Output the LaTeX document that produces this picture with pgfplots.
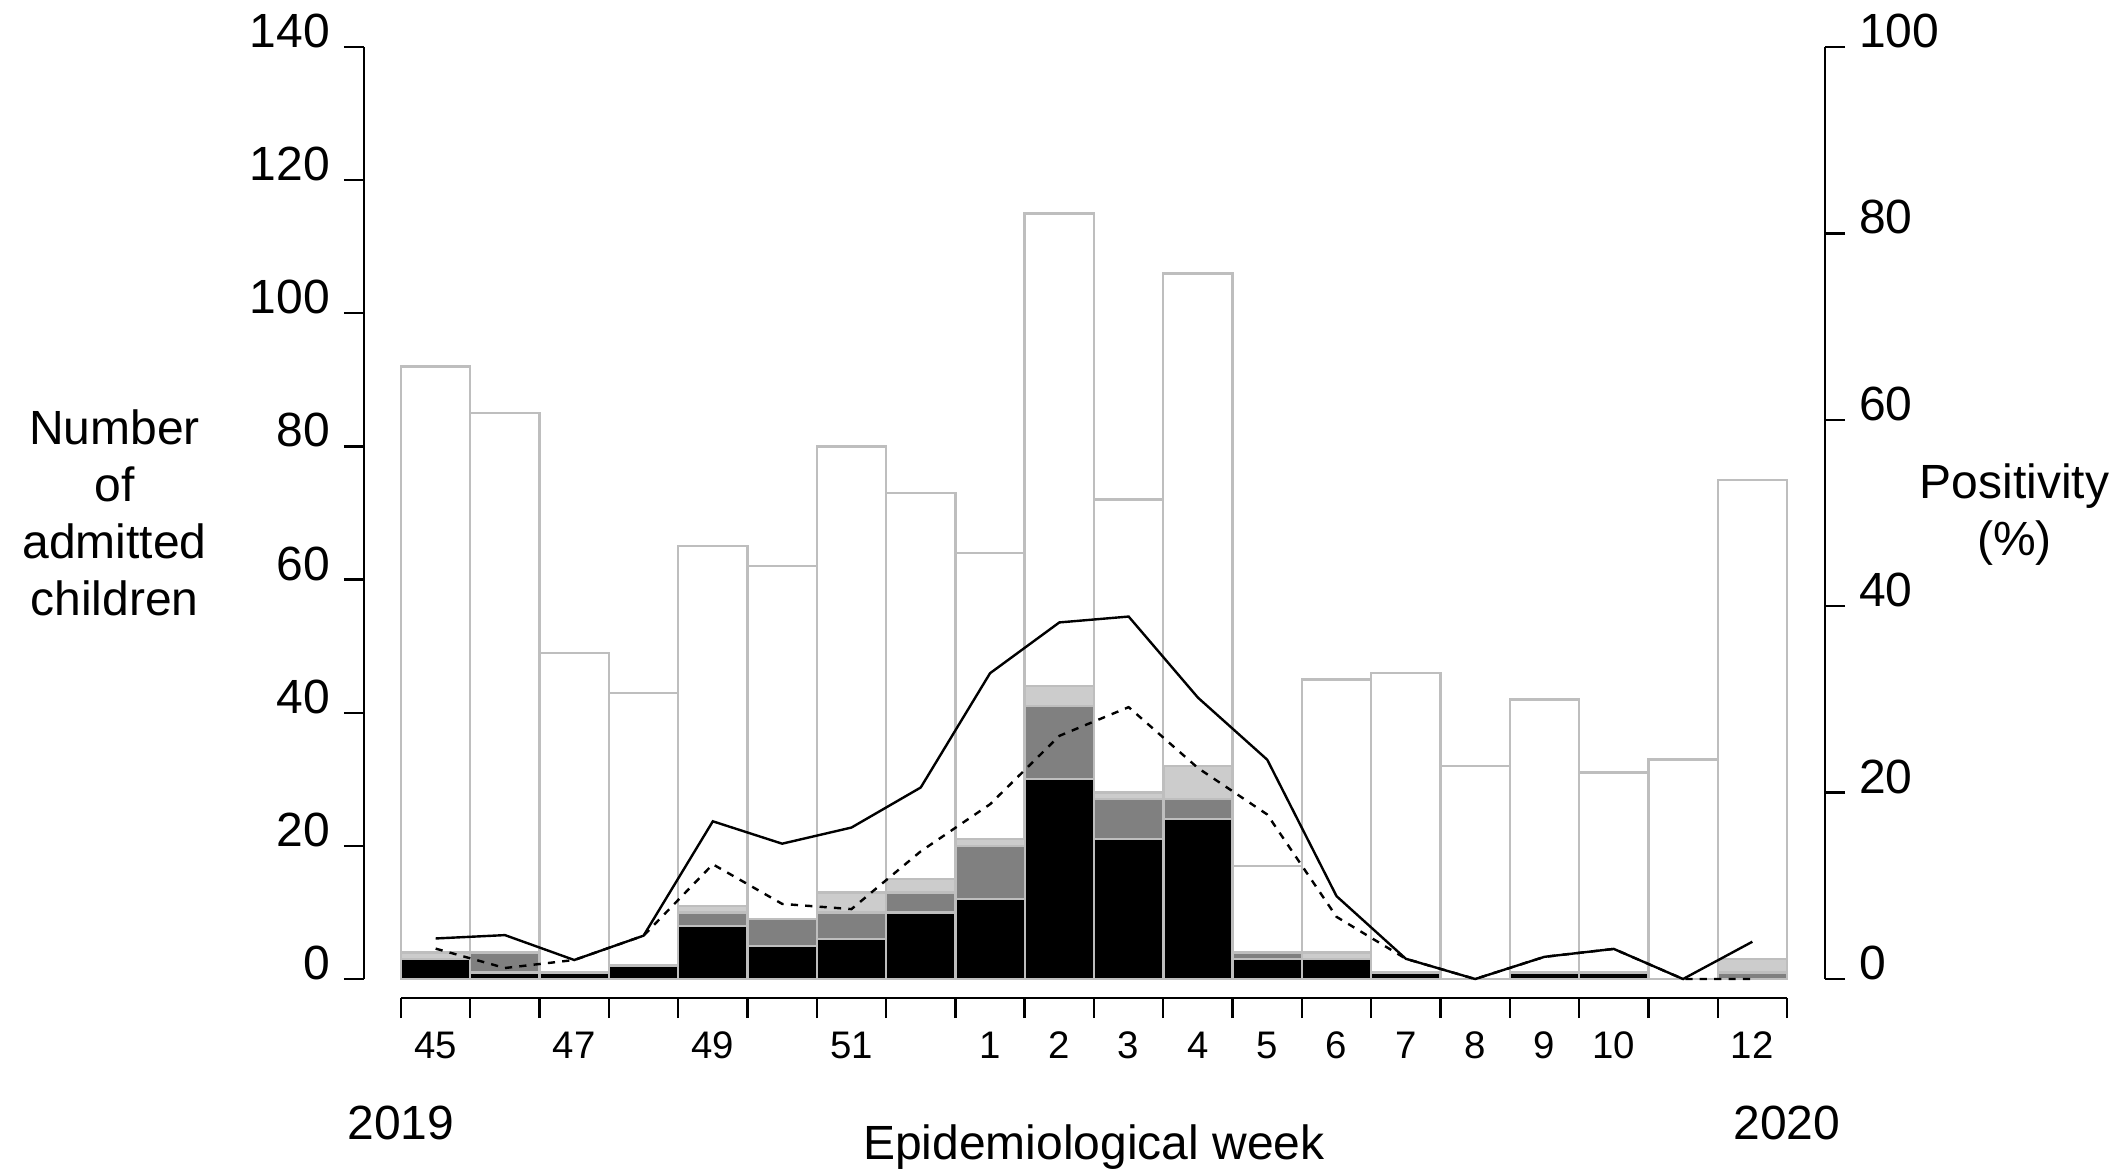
\documentclass[border=0pt]{standalone}
\usepackage{pgfplots}
\usepackage{pgfplotstable}
\pgfplotsset{compat=1.18}
\usepackage{fontspec}
\setmainfont{Liberation Sans}

\definecolor{barline}{HTML}{BEBEBE}
\definecolor{darkseg}{HTML}{808080}
\definecolor{lightseg}{HTML}{CCCCCC}

% one row per bar: x = bar centre, weeks 45-52 (2019) then 1-12 (2020)
\pgfplotstableread{
x    week total black dark light solid dashed
0.5  45   92    3     0    1     4.35  3.26
1.5  46   85    1     3    0     4.71  1.18
2.5  47   49    1     0    0     2.04  2.04
3.5  48   43    2     0    0     4.65  4.65
4.5  49   65    8     2    1     16.92 12.31
5.5  50   62    5     4    0     14.52 8.06
6.5  51   80    6     4    3     16.25 7.50
7.5  52   73    10    3    2     20.55 13.70
8.5  1    64    12    8    1     32.81 18.75
9.5  2    115   30    11   3     38.26 26.09
10.5 3    72    21    6    1     38.89 29.17
11.5 4    106   24    3    5     30.19 22.64
12.5 5    17    3     1    0     23.53 17.65
13.5 6    45    3     0    1     8.89  6.67
14.5 7    46    1     0    0     2.17  2.17
15.5 8    32    0     0    0     0     0
16.5 9    42    1     0    0     2.38  2.38
17.5 10   31    1     0    0     3.23  3.23
18.5 11   33    0     0    0     0     0
19.5 12   75    0     1    2     4.00  0
}\weeks

\pgfplotsset{
  base/.style={
    width=346.5pt, height=233pt, scale only axis,
    xmin=0, xmax=20, clip=false,
    tick align=outside, major tick length=5pt,
    axis line style={line width=0.6pt},
    every tick/.style={black, line width=0.6pt},
    /pgf/number format/assume math mode=true,
    every tick label/.append style={font=\fontsize{12}{14}\selectfont},
  },
}

\begin{document}
\begin{tikzpicture}[font=\fontsize{12}{14.25}\selectfont]
% total admissions (white bars) + left and bottom axes
\begin{axis}[base, ymin=0, ymax=140,
    axis x line*=bottom, axis y line*=left,
    axis x line shift=4.75pt, axis y line shift=9.25pt,
    ytick={0,20,...,140},
    yticklabel style={yshift=4pt},
    xtick={0,...,20},
    xticklabels={45,,47,,49,,51,,1,2,3,4,5,6,7,8,9,10,,12,},
    xticklabel style={xshift=8.6625pt, font=\fontsize{9.6}{11}\selectfont},
    ybar, bar width=1, bar shift=0pt,
  ]
  \addplot[fill=white, draw=barline, line width=0.6pt] table[x=x, y=total] {\weeks};
  \node[align=center] at (rel axis cs:0,0.5) [xshift=-71.6pt] {Number\\of\\admitted\\children};
  \node at (rel axis cs:0,0) [yshift=-36pt] {2019};
  \node at (rel axis cs:1,0) [yshift=-36pt] {2020};
  \node[anchor=base] at (rel axis cs:0.5,0) [yshift=-45pt] {Epidemiological week};
\end{axis}

% positive samples, stacked
\begin{axis}[base, ymin=0, ymax=140, hide axis,
    ybar stacked, bar width=1,
  ]
  \addplot[fill=black, draw=barline, line width=0.6pt] table[x=x, y=black] {\weeks};
  \addplot[fill=darkseg, draw=barline, line width=0.6pt] table[x=x, y=dark] {\weeks};
  \addplot[fill=lightseg, draw=barline, line width=0.6pt] table[x=x, y=light] {\weeks};
\end{axis}

% positivity (%) on the right axis
\begin{axis}[base, ymin=0, ymax=100,
    axis x line=none, axis y line*=right,
    axis y line shift=9.5pt,
    ytick={0,20,...,100},
    yticklabel style={yshift=4pt},
  ]
  \addplot[black, line width=0.6pt] table[x=x, y=solid] {\weeks};
  \addplot[black, line width=0.6pt, dash pattern=on 1.8pt off 1.8pt] table[x=x, y=dashed] {\weeks};
  \node[align=center] at (rel axis cs:1,0.5) [xshift=56.85pt, yshift=-0.5pt] {Positivity\\(\%)};
\end{axis}

\pgfresetboundingbox
\useasboundingbox (-100.25pt,-48pt) rectangle (427.75pt,244.75pt);
\end{tikzpicture}
\end{document}
